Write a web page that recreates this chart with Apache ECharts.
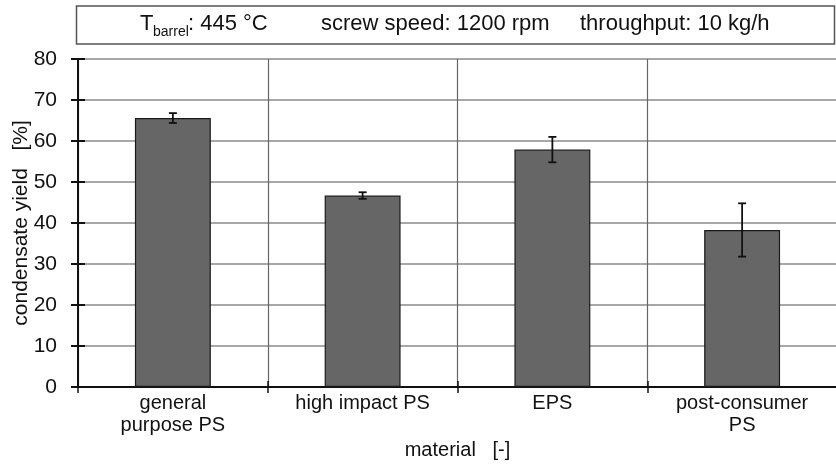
<!DOCTYPE html>
<html>
<head>
<meta charset="utf-8">
<script src="https://cdn.jsdelivr.net/npm/echarts@6/dist/echarts.min.js"></script>
<style>html,body{margin:0;padding:0;background:#fff;}#c{width:836px;height:464px;}</style>
</head>
<body>
<div id="c"></div>
<script>
const categories = ['general\npurpose PS', 'high impact PS', 'EPS', 'post-consumer\nPS'];
const yieldValues = [65.6, 46.7, 57.9, 38.3];
const yieldErrors = [1.2, 0.8, 3.1, 6.5];
const yTicks = [0, 10, 20, 30, 40, 50, 60, 70, 80];

const FONT = 'Liberation Sans, Arial, sans-serif';
const chart = echarts.init(document.getElementById('c'), null, {renderer: 'canvas'});

const errData = yieldValues.map((v, i) => [i, v - yieldErrors[i], v + yieldErrors[i]]);

chart.setOption({
  animation: false,
  backgroundColor: '#fff',
  grid: {left: 78, right: -1, top: 59, bottom: 77, containLabel: false, outerBoundsMode: 'none'},
  xAxis: [{
    type: 'category',
    data: categories,
    boundaryGap: true,
    name: 'material   [-]',
    nameLocation: 'middle',
    nameGap: 52,
    nameTextStyle: {fontFamily: FONT, fontSize: 20, color: '#111'},
    axisLine: {lineStyle: {color: '#111', width: 2}},
    axisTick: {show: true, length: 6, lineStyle: {color: '#111', width: 1.5}},
    axisLabel: {fontFamily: FONT, fontSize: 20, color: '#111', margin: 5, lineHeight: 22, interval: 0},
    splitLine: {show: true, lineStyle: {color: '#666', width: 1.2}}
  }, {
    type: 'category',
    data: categories,
    position: 'bottom',
    boundaryGap: true,
    axisLine: {show: false},
    axisTick: {show: true, inside: true, length: 6, lineStyle: {color: '#111', width: 1.5}},
    axisLabel: {show: false},
    splitLine: {show: false}
  }],
  yAxis: [{
    type: 'value',
    min: 0, max: 80, interval: 10,
    name: 'condensate yield   [%]',
    nameLocation: 'middle',
    nameGap: 46,
    nameMoveOverlap: false,
    nameTextStyle: {fontFamily: FONT, fontSize: 21, color: '#111'},
    axisLine: {show: true, lineStyle: {color: '#111', width: 2}},
    axisTick: {show: true, length: 7, lineStyle: {color: '#111', width: 2}},
    axisLabel: {fontFamily: FONT, fontSize: 21, color: '#111', margin: 21,
      formatter: v => yTicks.includes(v) ? String(v) : ''},
    splitLine: {show: true, lineStyle: {color: '#8a8a8a', width: 1.5}}
  }, {
    type: 'value',
    position: 'left',
    min: 0, max: 80, interval: 10,
    axisLine: {show: false},
    axisTick: {show: true, inside: true, length: 7, lineStyle: {color: '#111', width: 2}},
    axisLabel: {show: false},
    splitLine: {show: false}
  }],
  series: [{
    type: 'bar',
    data: yieldValues,
    barWidth: '40%',
    itemStyle: {color: '#666666', borderColor: '#1a1a1a', borderWidth: 1.2},
    z: 2
  }, {
    type: 'custom',
    data: errData,
    z: 5,
    renderItem: function (params, api) {
      const x = api.value(0);
      const lo = api.coord([x, api.value(1)]);
      const hi = api.coord([x, api.value(2)]);
      const cw = 4;
      const st = {stroke: '#111', lineWidth: 1.8};
      return {type: 'group', children: [
        {type: 'line', shape: {x1: lo[0], y1: lo[1], x2: hi[0], y2: hi[1]}, style: st},
        {type: 'line', shape: {x1: lo[0]-cw, y1: lo[1], x2: lo[0]+cw, y2: lo[1]}, style: st},
        {type: 'line', shape: {x1: hi[0]-cw, y1: hi[1], x2: hi[0]+cw, y2: hi[1]}, style: st}
      ]};
    }
  }],
  graphic: [
    {type: 'rect', shape: {x: 76.5, y: 6, width: 758, height: 38},
     style: {fill: '#fff', stroke: '#555', lineWidth: 1.5}},
    {type: 'text', left: 140, top: 13,
     style: {text: 'T', fill: '#111', font: '22px ' + FONT}},
    {type: 'text', left: 153, top: 25,
     style: {text: 'barrel', fill: '#111', font: '14px ' + FONT}},
    {type: 'text', left: 188, top: 13,
     style: {text: ': 445 °C', fill: '#111', font: '22px ' + FONT}},
    {type: 'text', left: 321, top: 13,
     style: {text: 'screw speed: 1200 rpm', fill: '#111', font: '22px ' + FONT}},
    {type: 'text', left: 580, top: 13,
     style: {text: 'throughput: 10 kg/h', fill: '#111', font: '22px ' + FONT}}
  ]
});
</script>
</body>
</html>
